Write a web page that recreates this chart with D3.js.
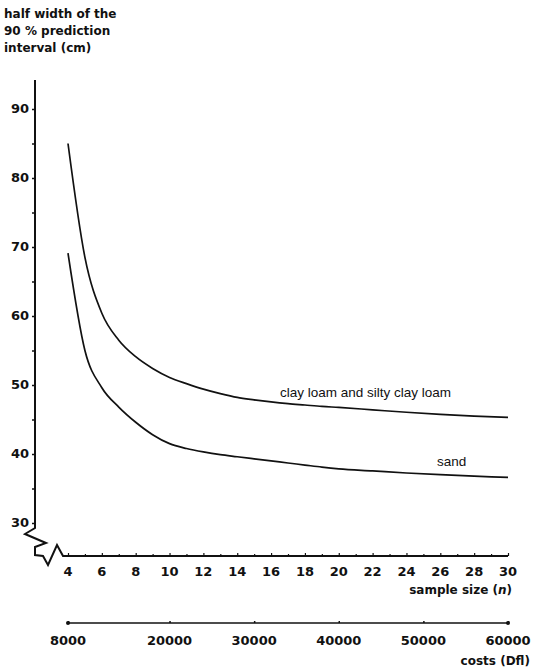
<!DOCTYPE html>
<html>
<head>
<meta charset="utf-8">
<script src="https://cdn.jsdelivr.net/npm/d3@7"></script>
<style>
  html, body { margin: 0; padding: 0; background: #fff; }
  svg { display: block; }
  text { font-family: "DejaVu Sans", "Liberation Sans", sans-serif; fill: #111; }
  .num { font-size: 13px; font-weight: bold; }
  .lab { font-size: 12px; font-weight: bold; }
  .curve-lab { font-family: "Liberation Sans", Arial, sans-serif; font-size: 13.5px; }
</style>
</head>
<body>
<svg id="chart" width="534" height="667"></svg>
<script>
// sample sizes and the half width of the 90 % prediction interval (cm)
const sampleSizes = [4, 5, 6, 7, 8, 9, 10, 11, 12, 13, 14, 15, 16, 17, 18, 19, 20, 22, 24, 26, 28, 30];
const clayLoam = [85.0, 68.5, 60.4, 56.5, 54.1, 52.4, 51.1, 50.2, 49.4, 48.75, 48.2, 47.85, 47.55, 47.3, 47.1, 46.9, 46.75, 46.4, 46.05, 45.75, 45.5, 45.3];
const sand     = [69.1, 55.0, 49.6, 46.8, 44.6, 42.8, 41.5, 40.8, 40.3, 39.9, 39.6, 39.3, 39.0, 38.7, 38.4, 38.1, 37.85, 37.55, 37.25, 37.0, 36.8, 36.6];

const yTicks = [30, 40, 50, 60, 70, 80, 90];
const yMinorTicks = [35, 45, 55, 65, 75, 85];
const xTicks = [4, 6, 8, 10, 12, 14, 16, 18, 20, 22, 24, 26, 28, 30];
const xMinorTicks = [5, 7, 9, 11, 13, 15, 17, 19, 21, 23, 25, 27, 29];
const costTicks = [8000, 20000, 30000, 40000, 50000, 60000];

const titleLines = ["half width of the", "90 % prediction", "interval (cm)"];

const svg = d3.select("#chart");

const x = d3.scaleLinear().domain([4, 30]).range([68, 508]);
const y = d3.scaleLinear().domain([30, 90]).range([523, 109]);
const cost = d3.scaleLinear().domain([8000, 60000]).range([68, 508]);

const axisY = 556, axisX = 35, costY = 623;

// y-axis title
svg.append("g").selectAll("text").data(titleLines).join("text")
  .attr("class", "lab")
  .attr("x", 4).attr("y", (d, i) => 18 + i * 17)
  .text(d => d);

// y axis line with the break at its foot
svg.append("path")
  .attr("d", `M${axisX},80 L${axisX},528 L25,534 L46,543 L35,547 L35,555 L43,556 L48,565 L57,545 L63,${axisY} L${x(30)},${axisY}`)
  .attr("fill", "none").attr("stroke", "#111").attr("stroke-width", 2).attr("stroke-linejoin", "miter");

// y ticks and labels
const gy = svg.append("g").attr("transform", `translate(${axisX},0)`);
gy.call(d3.axisLeft(y).tickValues(yTicks).tickSize(3).tickPadding(3).tickFormat(d3.format("d")));
gy.append("g").call(d3.axisLeft(y).tickValues(yMinorTicks).tickSize(3).tickFormat(""));
gy.selectAll(".domain").remove();
gy.attr("font-family", null).attr("font-size", null);
gy.selectAll("text").attr("class", "num").attr("fill", "#111").attr("dy", "0.3em");
gy.selectAll("line").attr("stroke", "#111").attr("stroke-width", 1.5);

// sample-size axis (ticks point up)
const gx = svg.append("g").attr("transform", `translate(0,${axisY})`);
gx.call(d3.axisTop(x).tickValues(xTicks).tickSize(3).tickFormat(""));
gx.append("g").call(d3.axisTop(x).tickValues(xMinorTicks).tickSize(2).tickFormat(""));
gx.selectAll(".domain").remove();
gx.selectAll("line").attr("stroke", "#111").attr("stroke-width", 1.2);
gx.selectAll(".xlab").data(xTicks).join("text").attr("class", "xlab num")
  .attr("x", d => x(d)).attr("y", 20).attr("text-anchor", "middle").text(d => d);

const sl = svg.append("text").attr("class", "lab").attr("x", 512).attr("y", axisY + 38).attr("text-anchor", "end");
sl.append("tspan").text("sample size (");
sl.append("tspan").style("font-style", "italic").text("n");
sl.append("tspan").text(")");

// cost axis
const gc = svg.append("g").attr("transform", `translate(0,${costY})`);
gc.call(d3.axisTop(cost).tickValues(costTicks).tickSize(2).tickFormat(""));
gc.select(".domain").attr("d", `M${cost(8000)},0H${cost(60000)}`).attr("stroke", "#111").attr("stroke-width", 1.6);
gc.selectAll("line").attr("stroke", "#111").attr("stroke-width", 1.5);
gc.selectAll("circle").data([8000, 60000]).join("circle")
  .attr("cx", d => cost(d)).attr("cy", 0).attr("r", 2).attr("fill", "#111");
gc.selectAll(".clab").data(costTicks).join("text").attr("class", "clab num")
  .attr("x", d => cost(d)).attr("y", 22).attr("text-anchor", "middle").text(d => d);
svg.append("text").attr("class", "lab").attr("x", 530).attr("y", costY + 42).attr("text-anchor", "end")
  .text("costs (Dfl)");

// curves
const line = d3.line().x((d, i) => x(sampleSizes[i])).y(d => y(d)).curve(d3.curveMonotoneX);
[clayLoam, sand].forEach(s => {
  svg.append("path").attr("d", line(s)).attr("fill", "none")
    .attr("stroke", "#111").attr("stroke-width", 1.7);
});

svg.append("text").attr("class", "curve-lab").attr("x", 280).attr("y", 397)
  .text("clay loam and silty clay loam");
svg.append("text").attr("class", "curve-lab").attr("x", 437).attr("y", 466)
  .text("sand");
</script>
</body>
</html>
